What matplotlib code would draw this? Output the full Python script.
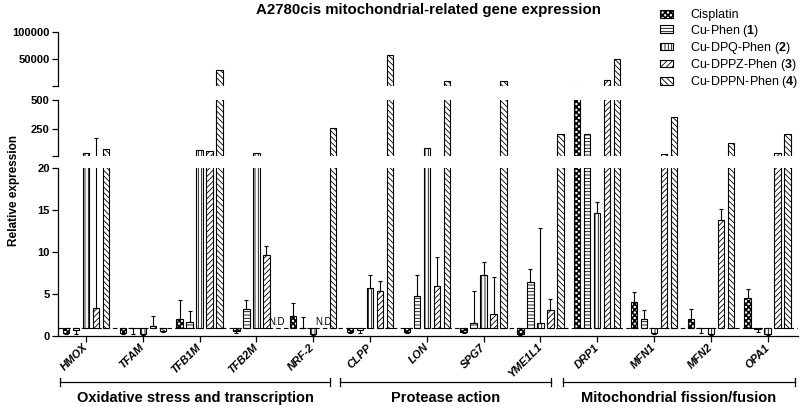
import numpy as np
import matplotlib
matplotlib.use("Agg")
import matplotlib.pyplot as plt
import matplotlib.hatch as mhatch
from matplotlib.path import Path
from matplotlib.patches import Patch
from matplotlib.transforms import blended_transform_factory

plt.rcParams['font.family'] = ['Liberation Sans', 'DejaVu Sans']
plt.rcParams['mathtext.fontset'] = 'custom'
plt.rcParams['mathtext.rm'] = 'Liberation Sans'
plt.rcParams['mathtext.bf'] = 'Liberation Sans:bold'
plt.rcParams['hatch.linewidth'] = 0.6


# checkerboard hatch, replaces the small circle 'o' pattern
class CheckerHatch(mhatch.HatchPatternBase):
    def __init__(self, hatch, density):
        self.n = hatch.count('o') * density * 2
        self.num_vertices = (self.n * self.n // 2) * 5

    def set_vertices_and_codes(self, vertices, codes):
        s = 1.0 / self.n
        d = s * 0.05
        sq = np.array([[d, d], [s - d, d], [s - d, s - d], [d, s - d], [d, d]])
        parts = [sq + [i * s, j * s] for i in range(self.n)
                 for j in range(self.n) if (i + j) % 2 == 0]
        vertices[:] = np.concatenate(parts)
        c = [Path.MOVETO, Path.LINETO, Path.LINETO, Path.LINETO, Path.CLOSEPOLY]
        codes[:] = np.tile(c, len(parts))


mhatch._hatch_types = [t for t in mhatch._hatch_types
                       if t is not mhatch.SmallCircles] + [CheckerHatch]

# data
genes = ["HMOX", "TFAM", "TFB1M", "TFB2M", "NRF-2", "CLPP", "LON", "SPG7",
         "YME1L1", "DRP1", "MFN1", "MFN2", "OPA1"]
series = ["Cisplatin", r"Cu-Phen ($\mathbf{1}$)", r"Cu-DPQ-Phen ($\mathbf{2}$)",
          r"Cu-DPPZ-Phen ($\mathbf{3}$)", r"Cu-DPPN-Phen ($\mathbf{4}$)"]
nan = np.nan

cisplatin = [0.3, 0.3, 2.0, 0.6, 2.4, 0.5, 0.5, 0.5, 0.2, 1000, 4.0, 2.0, 4.5]
cu_phen = [0.7, 0.9, 1.7, 3.2, 1.0, 0.7, 4.75, 1.6, 6.45, 205, 2.0, 0.9, 0.8]
cu_dpq = [40, 0.2, 68, 46, 0.2, 5.75, 83, 7.3, 1.6, 14.7, 0.3, 0.2, 0.2]
cu_dppz = [3.3, 1.2, 60, 9.6, nan, 5.35, 5.9, 2.6, 3.1, 11000, 35, 13.8, 40]
cu_dppn = [75, 0.6, 30000, nan, 260, 58000, 9700, 9700, 210, 50000, 350, 130, 205]

cisplatin_sd = [0.1, 0.1, 2.3, 0.3, 1.5, 0.1, 0.2, 0.2, 0.1, 0, 1.2, 1.2, 1.1]
cu_phen_sd = [0.5, 0.7, 1.3, 1.1, 1.3, 0.4, 2.55, 3.7, 1.55, 0, 1.1, 0.5, 0.3]
cu_dpq_sd = [0, 0.05, 0, 0, 0.05, 1.55, 0, 1.55, 11.3, 1.2, 0.1, 0.05, 0.05]
cu_dppz_sd = [167, 1.2, 0, 1.1, 0, 1.2, 3.5, 4.45, 1.3, 0, 0, 1.3, 0]
cu_dppn_sd = [0, 0.1, 0, 0, 0, 0, 0, 0, 0, 0, 0, 0, 0]

groups = ["Oxidative stress and transcription", "Protease action",
          "Mitochondrial fission/fusion"]

values = [cisplatin, cu_phen, cu_dpq, cu_dppz, cu_dppn]
errors = [cisplatin_sd, cu_phen_sd, cu_dpq_sd, cu_dppz_sd, cu_dppn_sd]
hatches = ['ooo', '-----', '|||||', '//////', '\\\\\\\\\\\\']

# layout
pitch = 0.176
width = 0.115
group_spans = [(-0.46, 4.3), (4.47, 8.19), (8.4, 12.48)]

fig = plt.figure(figsize=(8, 4.07), dpi=100)
L, W = 0.0725, 0.925
ax_top = fig.add_axes([L, 0.7887, W, 0.1327])
ax_mid = fig.add_axes([L, 0.6174, W, 0.1369], sharex=ax_top)
ax_bot = fig.add_axes([L, 0.1744, W, 0.4128], sharex=ax_top)
axes = [ax_top, ax_mid, ax_bot]
limits = [(500, 100000), (20, 500), (0, 20)]

x = np.arange(len(genes))
for ax, (lo, hi) in zip(axes, limits):
    for k in range(len(series)):
        vals = np.asarray(values[k], float)
        sds = np.asarray(errors[k], float)
        pos = x + (k - 2) * pitch
        ok = ~np.isnan(vals)
        # only what reaches into this segment of the broken axis
        b = ok & (vals > lo) if lo > 0 else ok
        ax.bar(pos[b], vals[b] - 1, width, bottom=1, facecolor='white',
               edgecolor='black', linewidth=0.8, hatch=hatches[k], zorder=2)
        lower = np.where(vals < 1, sds, 0)
        upper = np.where(vals >= 1, sds, 0)
        e = ok & (sds > 0)
        if lo > 0:
            e = e & (vals + upper > lo)
        ax.errorbar(pos[e], vals[e], yerr=[lower[e], upper[e]], fmt='none',
                    ecolor='black', elinewidth=0.8, capsize=1.5, capthick=0.8,
                    zorder=3)
    ax.set_ylim(lo, hi)
    for s in ['top', 'right']:
        ax.spines[s].set_visible(False)
    ax.spines['left'].set_linewidth(0.9)
    ax.tick_params(axis='y', length=4, width=0.9, labelsize=8, pad=2)

ax_top.set_yticks([500, 50000, 100000])
ax_top.set_yticklabels(['', '50000', '100000'], fontweight='bold')
ax_mid.set_yticks([20, 250, 500])
ax_mid.set_yticklabels(['', '250', '500'], fontweight='bold')
ax_bot.set_yticks([0, 5, 10, 15, 20])
ax_bot.set_yticklabels(['0', '5', '10', '15', '20'], fontweight='bold')

for ax in [ax_top, ax_mid]:
    ax.spines['bottom'].set_visible(False)
    ax.tick_params(axis='x', bottom=False, labelbottom=False)

ax_bot.set_xlim(-0.493, 12.535)
ax_bot.spines['bottom'].set_linewidth(0.9)
ax_bot.axhline(1, color='black', lw=0.8, ls=(0, (4, 3)), zorder=1)
ax_bot.set_xticks(x)
ax_bot.set_xticklabels(genes, rotation=45, ha='right', va='center',
                       rotation_mode='anchor', fontstyle='italic',
                       fontweight='bold', fontsize=8)
ax_bot.tick_params(axis='x', length=4, width=0.9, pad=3)

# not determined
for k in range(len(series)):
    vals = np.asarray(values[k], float)
    for i in np.where(np.isnan(vals))[0]:
        ax_bot.text(i + (k - 2) * pitch, 1.1, "N.D", ha='center', va='bottom',
                    fontsize=7)

# group brackets
tr = blended_transform_factory(ax_bot.transData, fig.transFigure)
for name, (a, b) in zip(groups, group_spans):
    ax_bot.plot([a, b], [0.0614, 0.0614], color='black', lw=0.9,
                transform=tr, clip_on=False)
    for xx in (a, b):
        ax_bot.plot([xx, xx], [0.0524, 0.0704], color='black', lw=0.9,
                    transform=tr, clip_on=False)
    ax_bot.text((a + b) / 2, 0.022, name, ha='center', va='center',
                fontsize=10.5, fontweight='bold', transform=tr)

fig.text(0.018, 1 - 190 / 407, "Relative expression", rotation=90,
         ha='center', va='center', fontsize=8.5, fontweight='bold')
fig.text((58 + 798) / 2 / 800, 1 - 10 / 407,
         "A2780cis mitochondrial-related gene expression",
         ha='center', va='center', fontsize=10.8, fontweight='bold')

handles = [Patch(facecolor='white', edgecolor='black', linewidth=0.8,
                 hatch=h) for h in hatches]
fig.legend(handles, series, loc='upper left', bbox_to_anchor=(0.825, 0.977),
           frameon=False, fontsize=9, handlelength=1.05, handleheight=0.55,
           handletextpad=1.35, labelspacing=0.1, borderpad=0, borderaxespad=0)

fig.savefig("out.png", dpi=100)
